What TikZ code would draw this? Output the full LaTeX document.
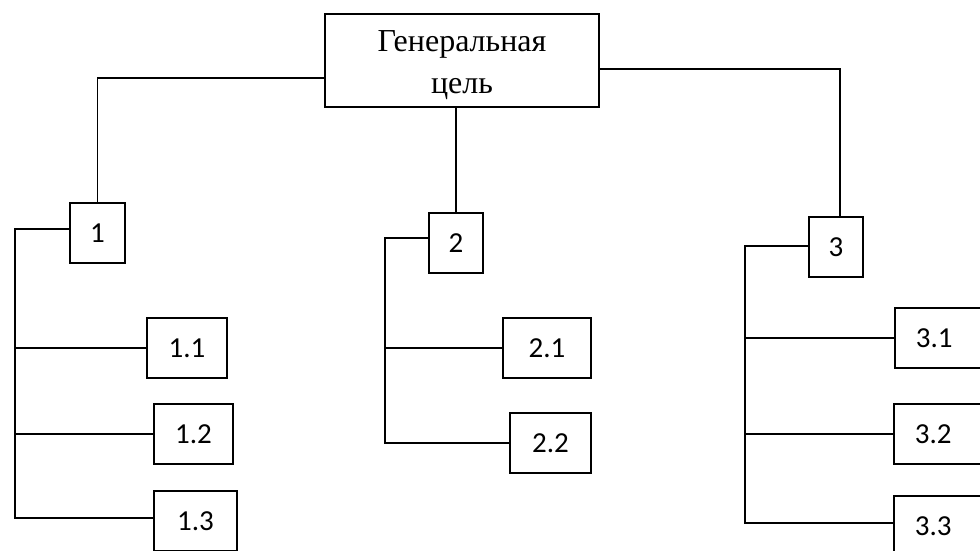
\documentclass[tikz,border=0pt]{standalone}
\usepackage{fontspec}
\setmainfont{Liberation Serif}
\newfontfamily\numfont{Carlito}
\usetikzlibrary{positioning,calc}
\tikzset{
  goalbox/.style={rectangle, draw=black, line width=1.8pt, align=center,
    minimum width=274pt, minimum height=93pt, inner sep=0pt,
    font=\fontsize{32}{42}\selectfont},
  numbox/.style={rectangle, draw=black, line width=1.8pt, inner sep=0pt,
    minimum height=60pt, font=\numfont\fontsize{29}{30}\selectfont},
  edgebox/.style={numbox, anchor=west, align=left, text width=90pt,
    inner xsep=21pt},
  link/.style={line width=1.8pt, draw=black},
}

\begin{document}
\begin{tikzpicture}[x=1pt, y=-1pt]
  \useasboundingbox (0,0) rectangle (980,550);
  \clip (0,0) rectangle (980,550);
  \fill[white] (0,0) rectangle (980,550);

  \node[goalbox, text height=73pt] (goal) at (462,60.5) {Генеральная\\цель};

  \node[numbox, minimum width=55pt] (g1) at (97.5,233) {1};
  \node[numbox, minimum width=54pt] (g2) at (456,243) {2};
  \node[numbox, minimum width=54pt] (g3) at (836,247) {3};

  \node[numbox, minimum width=80pt] (g11) at (187,348) {1.1};
  \node[numbox, minimum width=79pt] (g12) at (193.5,434) {1.2};
  \node[numbox, minimum width=83pt] (g13) at (195.5,521) {1.3};

  \node[numbox, minimum width=88pt] (g21) at (547,348) {2.1};
  \node[numbox, minimum width=81pt] (g22) at (550.5,443) {2.2};

  \node[edgebox] (g31) at (894,338) {3.1};
  \node[edgebox] (g32) at (893,434) {3.2};
  \node[edgebox] (g33) at (893,526) {3.3};

  % goal to level 1
  \draw[link] ([yshift=-17.5pt]goal.west) -| (g1.north);
  \draw[link] (goal.south -| g2.north) -- (g2.north);
  \draw[link] ([yshift=-8.5pt]goal.east) -| ([xshift=4pt]g3.north);

  % level 1 to level 2
  \coordinate (s1) at (15,229);
  \coordinate (s2) at (385,238);
  \coordinate (s3) at (745,246);
  \draw[link] ([yshift=4pt]g1.west) -- (s1) |- ([yshift=3pt]g13.west);
  \draw[link] (s1 |- g11.west) -- (g11.west);
  \draw[link] (s1 |- g12.west) -- (g12.west);
  \draw[link] ([yshift=5pt]g2.west) -- (s2) |- (g22.west);
  \draw[link] (s2 |- g21.west) -- (g21.west);
  \draw[link] ([yshift=1pt]g3.west) -- (s3) |- ([yshift=3pt]g33.west);
  \draw[link] (s3 |- g31.west) -- (g31.west);
  \draw[link] (s3 |- g32.west) -- (g32.west);
\end{tikzpicture}
\end{document}
